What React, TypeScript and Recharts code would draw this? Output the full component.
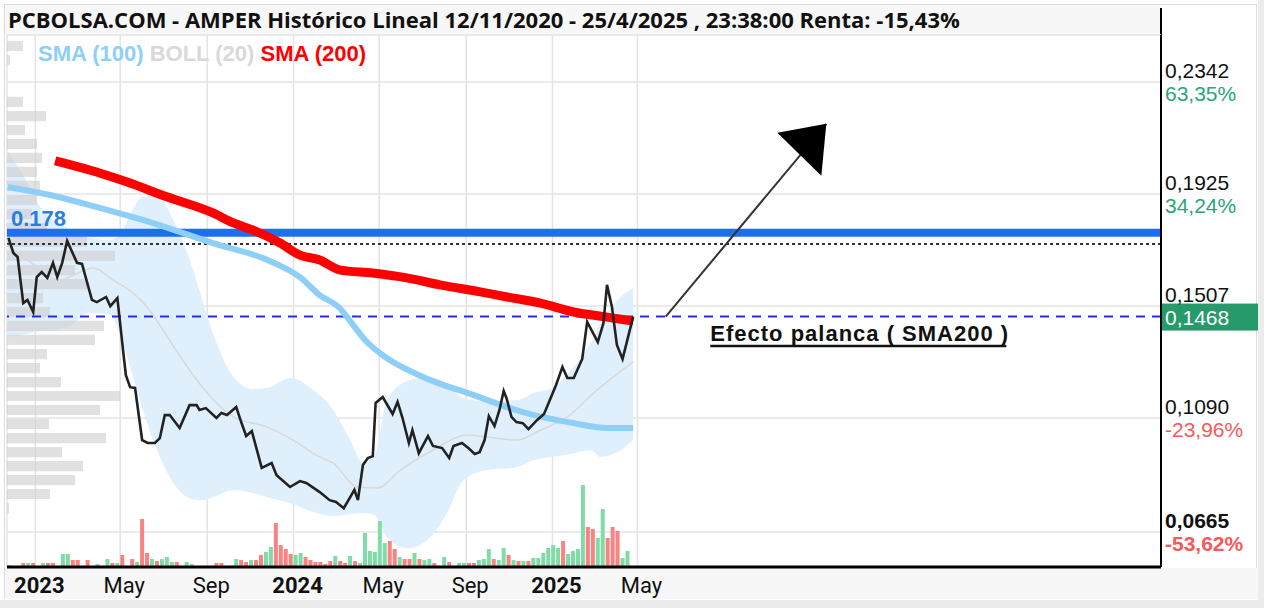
import React from 'react';
import {
  Area,
  Bar,
  CartesianGrid,
  ComposedChart,
  Line,
  ReferenceArea,
  ReferenceDot,
  ReferenceLine,
  XAxis,
  YAxis,
} from 'recharts';

const dayOf = (s: string) => {
  const [y, m, d] = s.split('-').map(Number);
  return Math.round((Date.UTC(y, m - 1, d) - Date.UTC(2023, 0, 1)) / 86400000);
};

// closing price
const priceDates = [
  '2022-11-24', '2022-12-01', '2022-12-07', '2022-12-15', '2022-12-21', '2022-12-29', '2023-01-03', '2023-01-10', '2023-01-18', '2023-01-26',
  '2023-02-01', '2023-02-08', '2023-02-15', '2023-03-01', '2023-03-08', '2023-03-22', '2023-03-29', '2023-04-11', '2023-04-17', '2023-04-27',
  '2023-05-05', '2023-05-09', '2023-05-15', '2023-05-22', '2023-06-01', '2023-06-09', '2023-06-19', '2023-06-26', '2023-07-03', '2023-07-10',
  '2023-07-24', '2023-08-07', '2023-08-17', '2023-08-21', '2023-08-30', '2023-09-14', '2023-09-21', '2023-09-29', '2023-10-12', '2023-10-19',
  '2023-10-26', '2023-11-03', '2023-11-17', '2023-12-01', '2023-12-08', '2023-12-27', '2024-01-10', '2024-01-19', '2024-02-07', '2024-02-21',
  '2024-03-01', '2024-03-12', '2024-03-27', '2024-04-01', '2024-04-08', '2024-04-15', '2024-04-22', '2024-04-26', '2024-05-06', '2024-05-20',
  '2024-05-27', '2024-06-03', '2024-06-12', '2024-06-17', '2024-06-26', '2024-07-09', '2024-07-16', '2024-07-29', '2024-08-08', '2024-08-14',
  '2024-08-26', '2024-09-04', '2024-09-13', '2024-09-20', '2024-09-27', '2024-10-03', '2024-10-11', '2024-10-18', '2024-10-24', '2024-10-28',
  '2024-11-04', '2024-11-11', '2024-11-20', '2024-11-28', '2024-12-10', '2024-12-20', '2024-12-30', '2025-01-06', '2025-01-15', '2025-01-22',
  '2025-01-31', '2025-02-12', '2025-02-19', '2025-03-06', '2025-03-14', '2025-03-19', '2025-03-26', '2025-04-02', '2025-04-10', '2025-04-25',
];
const priceValues = [
  0.1761, 0.1705, 0.169, 0.1518, 0.153, 0.1485, 0.1615, 0.1634, 0.1612, 0.1668,
  0.1615, 0.1668, 0.175, 0.1668, 0.1664, 0.153, 0.1522, 0.1541, 0.1507, 0.1537,
  0.1343, 0.125, 0.1205, 0.1202, 0.1008, 0.0997, 0.0997, 0.1015, 0.1101, 0.1101,
  0.1053, 0.1138, 0.1138, 0.112, 0.1127, 0.109, 0.1109, 0.1101, 0.1131, 0.1075,
  0.1023, 0.1041, 0.0904, 0.0922, 0.0877, 0.0833, 0.0855, 0.0848, 0.0814, 0.0784,
  0.0777, 0.0754, 0.0822, 0.0784, 0.0915, 0.0941, 0.0948, 0.1146, 0.1168, 0.1105,
  0.115, 0.109, 0.0997, 0.1045, 0.0959, 0.1023, 0.0986, 0.0978, 0.0941, 0.0986,
  0.0997, 0.0978, 0.0956, 0.0963, 0.1008, 0.1097, 0.106, 0.112, 0.1191, 0.1164,
  0.1094, 0.1075, 0.1071, 0.1049, 0.1082, 0.1105, 0.1168, 0.1213, 0.128, 0.1239,
  0.1239, 0.131, 0.1448, 0.1373, 0.1444, 0.1586, 0.1504, 0.1362, 0.131, 0.1468,
];

const sma100Dates = [
  '2022-11-23', '2023-01-22', '2023-04-02', '2023-06-12', '2023-09-09', '2023-11-25', '2024-01-10', '2024-02-07', '2024-03-06',
  '2024-03-20', '2024-04-11', '2024-05-02', '2024-07-02', '2024-09-11', '2024-11-20', '2025-01-31', '2025-03-19', '2025-04-25',
];
const sma100Values = [
  0.1951, 0.1921, 0.1873, 0.182, 0.1742, 0.1679, 0.1615, 0.1548, 0.15,
  0.1455, 0.1381, 0.1332, 0.1243, 0.1176, 0.1112, 0.1071, 0.1053, 0.1053,
];

const sma200Dates = [
  '2023-01-29', '2023-04-02', '2023-05-11', '2023-07-06', '2023-09-09', '2023-10-08', '2023-11-05', '2023-12-13', '2024-01-10', '2024-02-07',
  '2024-03-06', '2024-04-22', '2024-06-09', '2024-07-26', '2024-09-21', '2024-10-29', '2024-12-15', '2025-01-31', '2025-03-19', '2025-04-25',
];
const sma200Values = [
  0.2048, 0.2003, 0.1969, 0.1914, 0.1854, 0.1817, 0.179, 0.1742, 0.1697, 0.1679,
  0.1642, 0.163, 0.1612, 0.1586, 0.156, 0.1541, 0.1518, 0.1485, 0.1466, 0.1451,
];

// bollinger (20)
const bollDates = [
  '2022-11-22', '2022-12-11', '2023-01-08', '2023-02-15', '2023-03-19', '2023-04-17', '2023-05-05', '2023-05-15', '2023-06-02', '2023-06-22',
  '2023-07-15', '2023-08-04', '2023-08-22', '2023-09-09', '2023-10-08', '2023-11-05', '2023-11-25', '2023-12-27', '2024-01-29', '2024-02-26',
  '2024-03-21', '2024-04-08', '2024-04-25', '2024-05-12', '2024-06-10', '2024-07-08', '2024-08-05', '2024-08-28', '2024-10-01', '2024-11-12',
  '2024-12-05', '2025-01-02', '2025-01-31', '2025-02-24', '2025-03-10', '2025-04-03', '2025-04-25',
];
const bollUpper = [
  0.2089, 0.2014, 0.1876, 0.1798, 0.1761, 0.1753, 0.1791, 0.1846, 0.1914, 0.1917,
  0.1828, 0.1705, 0.1556, 0.1407, 0.1243, 0.1198, 0.1202, 0.1239, 0.1194, 0.112,
  0.1008, 0.0926, 0.0952, 0.1157, 0.1228, 0.1243, 0.122, 0.1164, 0.1153, 0.1157,
  0.1183, 0.1205, 0.128, 0.1369, 0.1444, 0.153, 0.1574,
];
const bollLower = [
  0.1392, 0.1399, 0.1414, 0.1429, 0.1481, 0.1474, 0.1362, 0.128, 0.112, 0.0971,
  0.0848, 0.0795, 0.0784, 0.0795, 0.0822, 0.081, 0.0795, 0.0773, 0.074, 0.0725,
  0.0732, 0.0736, 0.0728, 0.0646, 0.0605, 0.0635, 0.0736, 0.0859, 0.0896, 0.0907,
  0.0933, 0.0945, 0.0959, 0.0971, 0.0945, 0.0963, 0.1008,
];
const bollMidDates = [
  '2022-11-22', '2022-12-25', '2023-02-05', '2023-02-24', '2023-03-24', '2023-04-21', '2023-05-19', '2023-06-08', '2023-07-06', '2023-08-04',
  '2023-09-01', '2023-10-08', '2023-11-25', '2023-12-31', '2024-02-07', '2024-02-26', '2024-03-31', '2024-04-28', '2024-05-31', '2024-07-16',
  '2024-09-03', '2024-10-01', '2024-11-12', '2024-12-15', '2025-01-22', '2025-02-28', '2025-04-25',
];
const bollMidValues = [
  0.1735, 0.1671, 0.1604, 0.1623, 0.1649, 0.1604, 0.1556, 0.1504, 0.1395, 0.128,
  0.1183, 0.1094, 0.1056, 0.1008, 0.0945, 0.0922, 0.0833, 0.0829, 0.0896, 0.0971,
  0.1027, 0.1019, 0.1008, 0.1045, 0.1094, 0.1183, 0.1299,
];

// weekly volume (millions), u = up week, d = down week
const volStart = '2022-11-24';
const volumes = [
  0.2, 0, 0, 0.4, 0.4, 0.4, 0, 0.4, 0.4, 0.4,
  0, 1.3, 1.3, 0.7, 0.7, 0, 0.7, 0, 0.3, 0,
  0.8, 0.4, 0.4, 1.2, 0, 0.8, 0.5, 4.8, 1.4, 0.8,
  0.6, 0.8, 1.0, 0.5, 0.5, 0, 0.5, 0.3, 0, 0,
  0, 0, 0.4, 0.4, 0, 0, 0.8, 0.7, 0.5, 0.7,
  0.7, 1.2, 1.5, 2.0, 4.4, 2.2, 1.8, 1.3, 1.2, 1.4,
  1.0, 0.7, 0.5, 0.5, 0.3, 0.6, 1.1, 0.6, 0.4, 1.1,
  0.6, 0.4, 3.4, 1.6, 1.5, 4.6, 2.4, 2.6, 1.8, 1.0,
  0.8, 0.8, 1.4, 0.8, 0.7, 0.8, 0.4, 0, 1.0, 0.5,
  0, 0.4, 0.4, 0.4, 0.4, 0.7, 0.8, 1.8, 0.8, 0.7,
  1.9, 1.2, 0.7, 0.6, 0.6, 0.6, 0.9, 0.9, 1.4, 1.9,
  2.2, 1.9, 2.6, 1.3, 1.6, 1.8, 8.2, 4.0, 3.8, 2.9,
  5.8, 2.9, 4.0, 3.6, 0.9, 1.6,
];
const volDir =
  'uuududuudd' + 'uuudduduuu' + 'ududududdu' + 'duuuduuuuu' + 'uudduuuddu' +
  'dduudddduu' + 'dddddduddu' + 'duuuuuuddu' + 'dduduuduud' + 'uuudduuudu' +
  'udududuuuu' + 'uuduuuuddu' + 'uddduu';

// volume by price (left profile)
const profilePrices = [
  0.2476, 0.2424, 0.2268, 0.2215, 0.2163, 0.2111, 0.2059, 0.2007, 0.1955, 0.1902,
  0.185, 0.1798, 0.1746, 0.1694, 0.1641, 0.1589, 0.1537, 0.1485, 0.1433, 0.1381,
  0.1328, 0.1276, 0.1224, 0.1172, 0.112, 0.1068, 0.1015, 0.0963, 0.0911, 0.0859,
  0.0807, 0.0754,
];
const profileVolumes = [
  1.6, 0.3, 1.6, 3.9, 1.8, 3.0, 3.5, 3.0, 3.3, 3.0,
  2.5, 4.0, 8.0, 10.8, 6.8, 8.0, 3.6, 4.3, 9.7, 8.8,
  4.0, 3.3, 5.4, 11.3, 9.3, 4.2, 9.9, 5.5, 7.6, 6.8,
  4.3, 0.2,
];

const xStart = '2022-11-22';
const xEnd = '2027-05-11';
const monthTicks = ['2023-01-01', '2023-05-01', '2023-09-01', '2024-01-01', '2024-05-01', '2024-09-01', '2025-01-01', '2025-05-01'];
const monthLabels = ['2023', 'May', 'Sep', '2024', 'May', 'Sep', '2025', 'May'];

const priceTicks = [0.2342, 0.1925, 0.1507, 0.109, 0.0665];
const priceTickLabels = ['0,2342', '0,1925', '0,1507', '0,1090', '0,0665'];
const pctTickLabels = ['63,35%', '34,24%', '', '-23,96%', '-53,62%'];
const yMin = 0.0535;
const yMax = 0.2517;

const lastPrice = 0.1468;
const lastPriceLabel = '0,1468';
const resistance = 0.178;
const resistanceLabel = '0.178';
const periodHigh = 0.1738;
const arrowFrom = { date: '2025-06-10', value: 0.1468 };
const arrowTo = { date: '2026-01-23', value: 0.2186 };
const note = { date: '2025-08-12', value: 0.1377, text: 'Efecto palanca ( SMA200 )' };

const title = 'PCBOLSA.COM - AMPER Histórico Lineal 12/11/2020 - 25/4/2025 , 23:38:00 Renta: -15,43%';

const zip = (dates: string[], values: number[]) => dates.map((s, i) => ({ d: dayOf(s), v: values[i] }));
const priceData = zip(priceDates, priceValues);
const sma100Data = zip(sma100Dates, sma100Values);
const sma200Data = zip(sma200Dates, sma200Values);
const midData = zip(bollMidDates, bollMidValues);
const bandData = bollDates.map((s, i) => ({ d: dayOf(s), band: [bollLower[i], bollUpper[i]] }));
const volStartDay = dayOf(volStart);
const volumeData = volumes.map((v, i) => ({ d: volStartDay + 7 * i, vol: v, up: volDir[i] === 'u' }));

const X0 = dayOf(xStart);
const X1 = dayOf(xEnd);
const tickDays = monthTicks.map(dayOf);
const PROFILE_DAYS = 14.14; // days of width per million
const BIN_HALF = 0.0019;

const AXIS_FONT = '"Liberation Sans", Arial, sans-serif';

const VolBar = (p: any) => {
  if (!p.payload || !p.payload.vol || !(p.height > 0)) return null;
  const cx = p.x + p.width / 2;
  return <rect x={cx - 2} y={p.y} width={4} height={p.height} fill={p.payload.up ? '#7fdca6' : '#f98282'} />;
};

const DateTick = (p: any) => {
  const i = tickDays.indexOf(p.payload.value);
  const label = monthLabels[i] ?? '';
  const isYear = /^\d+$/.test(label);
  return (
    <text x={p.x + 4} y={p.y + 26} textAnchor="middle" fontFamily="Roboto, sans-serif" fontSize={22}
      fontWeight={isYear ? 700 : 400} fill="#111">
      {label}
    </text>
  );
};

const PriceTick = (p: any) => {
  const i = priceTicks.indexOf(p.payload.value);
  const bold = i === priceTicks.length - 1;
  const pct = pctTickLabels[i] ?? '';
  return (
    <g fontFamily={AXIS_FONT} fontSize={21} fontWeight={bold ? 700 : 400}>
      <text x={p.x} y={p.y - 4} fill="#111">{priceTickLabels[i]}</text>
      {pct && (
        <text x={p.x} y={p.y + 19} fill={pct.startsWith('-') ? '#f55a5a' : '#2aa577'}>{pct}</text>
      )}
    </g>
  );
};

export default function App() {
  return (
    <div style={{ position: 'absolute', left: 0, top: 0, width: 1264, height: 608, background: '#fff', overflow: 'hidden' }}>
      <div style={{ position: 'absolute', left: 1258, top: 0, width: 6, height: 608, background: '#ececec' }} />
      <div style={{ position: 'absolute', left: 0, top: 600, width: 1264, height: 8, background: '#ececec' }} />
      <div style={{ position: 'absolute', left: 4, top: 4, width: 1253, height: 595, border: '1px solid #dcdcdc', boxSizing: 'border-box' }} />
      <div style={{ position: 'absolute', left: 5, top: 5, width: 1156, height: 30, background: '#f7f7f7' }} />
      <div style={{ position: 'absolute', left: 5, top: 568, width: 1253, height: 31, background: '#f7f7f7' }} />
      <div style={{ position: 'absolute', left: 1160, top: 8, width: 2, height: 28, background: '#000' }} />

      <div style={{ position: 'absolute', left: 0, top: 0 }}>
        <ComposedChart width={1264} height={608} data={volumeData} margin={{ top: 35, right: 6, bottom: 8, left: 7 }}>
          <CartesianGrid yAxisId="p" stroke="#e4e4e4" strokeWidth={1.5} />
          <XAxis
            dataKey="d"
            type="number"
            domain={[X0, X1]}
            allowDataOverflow
            ticks={tickDays}
            interval={0}
            height={33}
            tickLine={false}
            tickSize={0}
            tickMargin={0}
            axisLine={{ stroke: '#000', strokeWidth: 3 }}
            tick={<DateTick />}
          />
          <YAxis
            yAxisId="p"
            orientation="right"
            type="number"
            domain={[yMin, yMax]}
            allowDataOverflow
            ticks={priceTicks}
            interval={0}
            width={97}
            tickLine={false}
            tickSize={0}
            tickMargin={4}
            axisLine={{ stroke: '#000', strokeWidth: 2 }}
            tick={<PriceTick />}
          />
          <YAxis yAxisId="v" hide domain={[0, 53.2]} />

          <Area
            yAxisId="p"
            data={bandData}
            dataKey="band"
            type="monotone"
            stroke="none"
            fill="#dff0fc"
            fillOpacity={1}
            isAnimationActive={false}
            activeDot={false}
          />
          {profilePrices.map((p, i) => (
            <ReferenceArea
              key={i}
              yAxisId="p"
              x1={X0}
              x2={X0 + profileVolumes[i] * PROFILE_DAYS}
              y1={p - BIN_HALF}
              y2={p + BIN_HALF}
              fill="#cfcfcf"
              fillOpacity={0.62}
              stroke="none"
            />
          ))}
          <ReferenceLine
            yAxisId="p"
            y={resistance}
            stroke="#1d6ff0"
            strokeWidth={8}
            label={(props: any) => (
              <text x={props.viewBox.x + 4} y={props.viewBox.y - 7} fill="#2a7de1" fontFamily={AXIS_FONT}
                fontWeight={700} fontSize={22}>
                {resistanceLabel}
              </text>
            )}
          />
          <ReferenceLine yAxisId="p" y={periodHigh} stroke="#333" strokeWidth={2} strokeDasharray="3 3" />
          <ReferenceLine
            yAxisId="p"
            y={lastPrice}
            stroke="#2a2af0"
            strokeWidth={2}
            strokeDasharray="9 7"
            label={(props: any) => (
              <g>
                <rect x={props.viewBox.x + props.viewBox.width} y={props.viewBox.y - 13} width={97} height={27} fill="#279a6c" />
                <text x={props.viewBox.x + props.viewBox.width + 4} y={props.viewBox.y + 8} fill="#fff"
                  fontFamily={AXIS_FONT} fontSize={21}>
                  {lastPriceLabel}
                </text>
              </g>
            )}
          />

          <Bar yAxisId="v" dataKey="vol" barSize={4} shape={<VolBar />} isAnimationActive={false} />

          <Line yAxisId="p" data={midData} dataKey="v" type="monotone" stroke="#d8d8d8" strokeWidth={1.5}
            dot={false} activeDot={false} isAnimationActive={false} />
          <Line yAxisId="p" data={sma100Data} dataKey="v" type="monotone" stroke="#8ecff8" strokeWidth={6}
            dot={false} activeDot={false} isAnimationActive={false} />
          <Line yAxisId="p" data={sma200Data} dataKey="v" type="monotone" stroke="#ff0000" strokeWidth={9}
            dot={false} activeDot={false} isAnimationActive={false} />
          <Line yAxisId="p" data={priceData} dataKey="v" type="linear" stroke="#222" strokeWidth={2.6}
            dot={false} activeDot={false} isAnimationActive={false} />

          <ReferenceLine
            yAxisId="p"
            segment={[
              { x: dayOf(arrowFrom.date), y: arrowFrom.value },
              { x: dayOf(arrowTo.date), y: arrowTo.value },
            ]}
            stroke="#333"
            strokeWidth={2}
          />
          <ReferenceDot
            yAxisId="p"
            x={dayOf(arrowTo.date)}
            y={arrowTo.value}
            r={1}
            shape={(p: any) => (
              <polygon points={`${p.cx},${p.cy} ${p.cx - 49},${p.cy + 9} ${p.cx - 5},${p.cy + 52}`} fill="#000" />
            )}
          />
          <ReferenceDot
            yAxisId="p"
            x={dayOf(note.date)}
            y={note.value}
            r={1}
            shape={(p: any) => (
              <g>
                <text x={p.cx} y={p.cy} fontFamily={AXIS_FONT} fontWeight={700} fontSize={22} letterSpacing={1}
                  fill="#111">
                  {note.text}
                </text>
                <line x1={p.cx} x2={p.cx + 296} y1={p.cy + 5} y2={p.cy + 5} stroke="#111" strokeWidth={2.5} />
              </g>
            )}
          />
        </ComposedChart>
      </div>

      <svg width={1264} height={608} style={{ position: 'absolute', left: 0, top: 0, pointerEvents: 'none' }}>
        <text x={8} y={28} fontFamily='"Open Sans", sans-serif' fontWeight={700} fontSize={22} fill="#111">
          {title}
        </text>
        <text x={38} y={61} fontFamily={AXIS_FONT} fontWeight={700} fontSize={22}>
          <tspan fill="#8ecff8">SMA (100)</tspan>
          <tspan fill="#d9d9d9"> BOLL (20)</tspan>
          <tspan fill="#ff0000"> SMA (200)</tspan>
        </text>
      </svg>
    </div>
  );
}
